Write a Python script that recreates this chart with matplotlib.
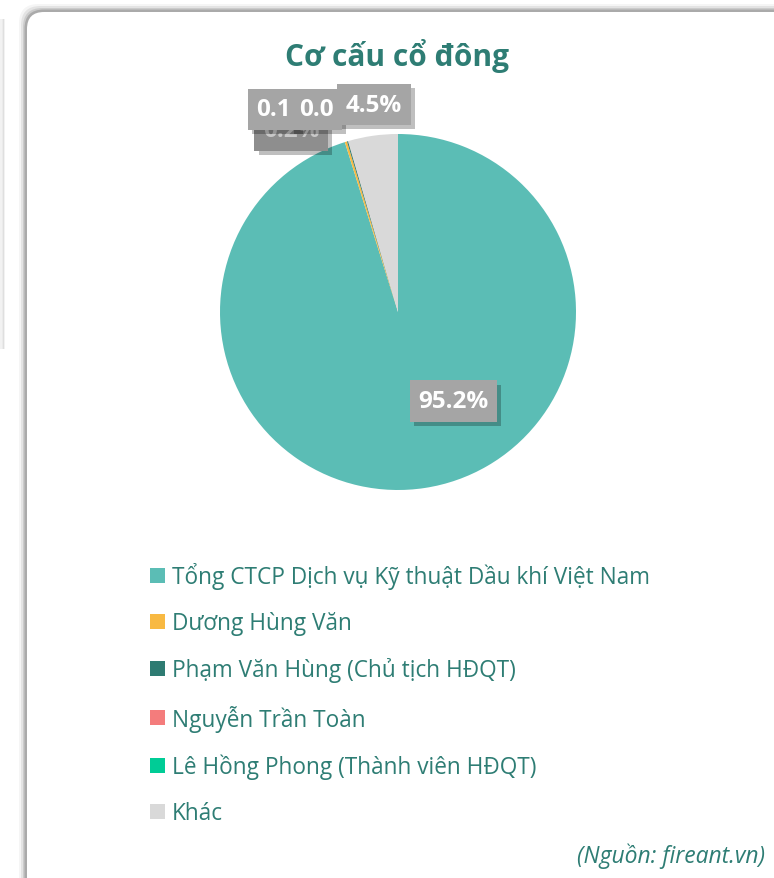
import matplotlib
matplotlib.use("Agg")
import matplotlib.pyplot as plt
import matplotlib.patheffects as pe
from matplotlib.patches import FancyBboxPatch, Patch
import numpy as np

# ---- data ----
categories = [
    "Tổng CTCP Dịch vụ Kỹ thuật Dầu khí Việt Nam",
    "Dương Hùng Văn",
    "Phạm Văn Hùng (Chủ tịch HĐQT)",
    "Nguyễn Trần Toàn",
    "Lê Hồng Phong (Thành viên HĐQT)",
    "Khác",
]
values = [95.2, 0.2, 0.1, 0.02, 0.01, 4.5]
colors = ["#5BBDB5", "#F8B942", "#2E7B72", "#F47C7C", "#00CC96", "#D9D9D9"]
title = "Cơ cấu cổ đông"
source = "(Nguồn: fireant.vn)"

TEXT = "#2E7D74"
FONT = ["Open Sans", "DejaVu Sans"]
plt.rcParams['font.family'] = FONT

W, H = 774, 879
fig = plt.figure(figsize=(W / 100, H / 100), dpi=100)
fig.patch.set_facecolor("white")

def fx(x): return x / W
def fy(y): return 1 - y / H

# faint neighbour card shadow at far left
for i, a in enumerate([0.05, 0.08, 0.05]):
    fig.patches.append(FancyBboxPatch((fx(0 + i * 1.5), fy(350)), fx(2), fy(20) - fy(350),
                                      boxstyle="square,pad=0", transform=fig.transFigure,
                                      facecolor="black", alpha=a, edgecolor="none", zorder=0))

# card shadow
for k, a in zip([7, 5, 3, 1.5], [0.04, 0.07, 0.1, 0.16]):
    fig.patches.append(FancyBboxPatch((fx(26 - k), fy(900)), fx(774 + 20 - 26 + 2 * k), fy(12 - k) - fy(900),
                                      boxstyle="round,pad=0,rounding_size=0.025", transform=fig.transFigure,
                                      facecolor="black", alpha=a, edgecolor="none", zorder=0,
                                      mutation_aspect=W / H))
fig.patches.append(FancyBboxPatch((fx(27), fy(900)), fx(774 + 20 - 27), fy(13) - fy(900),
                                  boxstyle="round,pad=0,rounding_size=0.022", transform=fig.transFigure,
                                  facecolor="white", edgecolor="none", zorder=1, mutation_aspect=W / H))

# title
fig.text(fx(397), fy(56), title, ha="center", va="center", fontsize=21.5,
         fontweight="bold", color=TEXT, zorder=5)

# pie
cx, cy, r = 398, 313, 178
ax = fig.add_axes([fx(cx - r), fy(cy + r), fx(2 * r), fy(cy - r) - fy(cy + r)], zorder=3)
wedges, _ = ax.pie(values, colors=colors, startangle=90, counterclock=False,
                   radius=1.0, wedgeprops=dict(linewidth=0))
ax.set_xlim(-1, 1)
ax.set_ylim(-1, 1)
ax.set_aspect("equal")
ax.axis("off")

# data labels (Excel-style boxes)
label_pos = [(0.31, -0.50), (-0.60, 1.02), (-0.70, 1.14), (-0.46, 1.14), (-0.30, 1.14), (-0.135, 1.165)]
label_txt = ["%.1f%%" % v for v in values]
label_txt[2] = "0.1"
label_txt[3] = "0.0"
shadow = [pe.withSimplePatchShadow(offset=(3, -3), shadow_rgbFace="black", alpha=0.25)]
for i, (txt, (px, py)) in enumerate(zip(label_txt, label_pos)):
    if i == 4:
        continue
    t = ax.text(px, py, txt, ha="center", va="center", fontsize=17.5, fontweight="bold",
                color="white" if i != 1 else "#C8C8C8", zorder=10 + i, clip_on=False,
                bbox=dict(boxstyle="square,pad=0.35", facecolor="#A5A5A5" if i != 1 else "#8E8E8E",
                          edgecolor="none"))
    t.get_bbox_patch().set_path_effects(shadow)

# legend
handles = [Patch(facecolor=c, edgecolor="none") for c in colors]
leg = fig.legend(handles, categories, loc="upper left", bbox_to_anchor=(fx(141), fy(554)),
                 frameon=False, fontsize=16.3, labelcolor=TEXT, handlelength=0.65, handleheight=0.65,
                 handletextpad=0.3, labelspacing=0.98, borderaxespad=0)
leg.set_zorder(5)

# source
fig.text(fx(765), fy(856), source, ha="right", va="center", fontsize=16.5,
         fontstyle="italic", color=TEXT, zorder=5)

fig.savefig("out.png", dpi=100, facecolor=fig.get_facecolor())
